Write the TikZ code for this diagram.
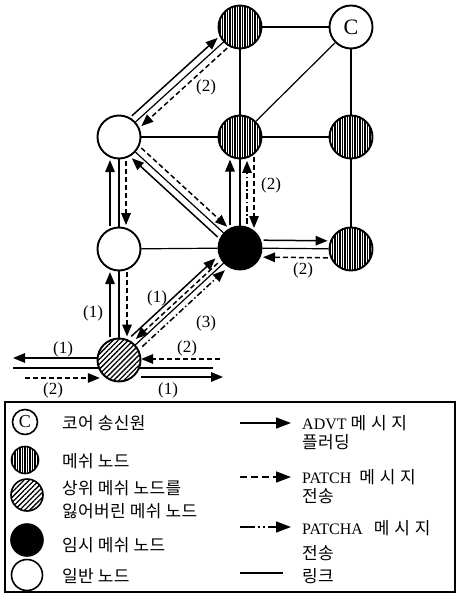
\documentclass[tikz,border=0pt]{standalone}
\usepackage{fontspec}
\setmainfont{Liberation Serif}
\newfontfamily\kr{Noto Sans CJK KR}[LetterSpace=2]
\newfontfamily\krw{Noto Sans CJK KR}[LetterSpace=28]
\usetikzlibrary{arrows.meta,calc,patterns.meta,backgrounds}
\newcommand\K[1]{{\kr\fontsize{17}{19}\selectfont #1}}
\newcommand\KW[1]{{\krw\fontsize{17}{19}\selectfont #1}}
\newcommand\msgline[5]{%
  \pgfmathsetmacro\msgsh{sqrt(484-(#4)*(#4))+#5}%
  \draw[#1, shorten <=\msgsh pt, shorten >=\msgsh pt] ($(#2)!#4pt!90:(#3)$) -- ($(#3)!#4pt!-90:(#2)$);%
}
\tikzset{
  nd/.style={circle, draw, line width=1.9pt, minimum size=43pt, inner sep=0pt},
  meshnd/.style={nd, preaction={fill=white}, pattern={Lines[angle=90,distance=2.5pt,line width=1.1pt]}},
  lostnd/.style={nd, preaction={fill=white}, pattern={Lines[angle=45,distance=3.6pt,line width=1.3pt]}},
  tempnd/.style={nd, fill=black},
  plainnd/.style={nd, fill=white},
  link/.style={line width=1.2pt},
  advt/.style={line width=1.5pt, -{Triangle[length=12pt,width=9.5pt]}},
  patch/.style={advt, dash pattern=on 5pt off 3pt},
  patcha/.style={advt, dash pattern=on 6pt off 2.5pt on 1.5pt off 2.5pt},
  lbl/.style={font=\fontsize{17}{19}\selectfont, anchor=center, inner sep=0pt},
  ktxt/.style={font=\fontsize{16}{18}\selectfont, anchor=base west, inner sep=0pt},
}
\begin{document}
\begin{tikzpicture}[x=1pt,y=-1pt]
\useasboundingbox (0,0) rectangle (458,601);
% nodes
\node[meshnd] (T) at (240,27) {};
\node[plainnd, font=\fontsize{22}{22}\selectfont] (C) at (351,27) {C};
\node[meshnd] (M) at (240,137) {};
\node[meshnd] (R) at (351,137) {};
\node[plainnd] (W1) at (119,137) {};
\node[plainnd] (W2) at (119,249) {};
\node[tempnd] (B) at (240,248) {};
\node[meshnd] (R2) at (351,249) {};
\node[lostnd] (H) at (119,360) {};
% free ends
\coordinate (lL) at (13,368);
\coordinate (lR) at (213,368);
\coordinate (a1) at (13,358);
\coordinate (d1) at (25,378);
\coordinate (d2) at (220,359);
\coordinate (a2) at (223,377);
% links
\begin{scope}[on background layer]
\draw[link] (lL) -- (lR);
\end{scope}
\draw[link] (T) -- (C);
\draw[link] (T) -- (M);
\draw[link] (C) -- (M);
\draw[link] (C) -- (R);
\draw[link] (M) -- (R);
\draw[link] (W1) -- (M);
\draw[link] (W1) -- (T);
\draw[link] (W1) -- (B);
\draw[link] (W1) -- (W2);
\draw[link] (W2) -- (B);
\draw[link] (M) -- (B);
\draw[link] (B) -- (R2);
\draw[link] (R) -- (R2);
\draw[link] (W2) -- (H);
\draw[link] (B) -- (H);
% messages
\msgline{advt}{W1}{T}{7}{3}
\msgline{patch}{T}{W1}{7}{3}
\msgline{patch}{W1}{B}{7}{3}
\msgline{advt}{B}{W1}{7}{3}
\msgline{advt}{W2}{W1}{9}{3}
\msgline{patch}{W1}{W2}{7}{3}
\msgline{advt}{H}{W2}{9}{3}
\msgline{patch}{W2}{H}{8}{3}
\msgline{advt}{B}{M}{10}{3}
\msgline{patcha}{B}{M}{-7}{3}
\msgline{patch}{M}{B}{14}{3}
\msgline{advt}{B}{R2}{8}{3}
\msgline{patch}{R2}{B}{9}{3}
\msgline{advt}{H}{B}{9}{5}
\msgline{patch}{B}{H}{-4}{5}
\msgline{patcha}{H}{B}{-6}{5}
\draw[advt] (H.west |- a1) -- (a1);
\draw[patch, shorten >=-3pt] (d1) -- (d1 -| H.west);
\draw[patch] (d2) -- (d2 -| H.east);
\draw[advt] (H.east |- a2) -- (a2);
% labels
\node[lbl] (n1) at (206,87) {(2)};
\node[lbl] (n2) at (271,185) {(2)};
\node[lbl] (n3) at (303,270) {(2)};
\node[lbl] (n4) at (93,313) {(1)};
\node[lbl] (n5) at (157,298) {(1)};
\node[lbl] (n6) at (206,323) {(3)};
\node[lbl] (n7) at (63,349) {(1)};
\node[lbl] (n8) at (187,348) {(2)};
\node[lbl] (n9) at (53,390) {(2)};
\node[lbl] (n10) at (168,390) {(1)};
% legend
\draw[line width=1.4pt] (5,402) rectangle (455,592);
\node[plainnd, minimum size=25pt, line width=1.6pt, font=\fontsize{18}{18}\selectfont] (kC) at (25,422) {C};
\node[meshnd, minimum size=27pt, line width=1.6pt] (kM) at (25,460) {};
\node[lostnd, minimum size=32pt, line width=1.6pt] (kH) at (27,495) {};
\node[tempnd, minimum size=32pt, line width=1.6pt] (kB) at (27,540) {};
\node[plainnd, minimum size=31pt, line width=1.6pt] (kW) at (27,575) {};
\node[ktxt] (t1) at (62,429) {\K{코어 송신원}};
\node[ktxt] (t2) at (62,467) {\K{메쉬 노드}};
\node[ktxt] (t3) at (62,494) {\K{상위 메쉬 노드를}};
\node[ktxt] (t4) at (62,517) {\K{잃어버린 메쉬 노드}};
\node[ktxt] (t5) at (62,551) {\K{임시 메쉬 노드}};
\node[ktxt] (t6) at (62,582) {\K{일반 노드}};
\coordinate (e1a) at (240,423); \coordinate (e1b) at (291,423);
\coordinate (e2a) at (240,477); \coordinate (e2b) at (291,477);
\coordinate (e3a) at (240,527); \coordinate (e3b) at (291,527);
\coordinate (e4a) at (240,573); \coordinate (e4b) at (283,573);
\draw[line width=1.5pt, -{Triangle[length=15pt,width=11pt]}] (e1a) -- (e1b);
\draw[line width=1.5pt, dash pattern=on 7pt off 4pt, -{Triangle[length=15pt,width=11pt]}] (e2a) -- (e2b);
\draw[line width=1.5pt, dash pattern=on 15pt off 3pt on 2pt off 3pt on 2pt off 3pt, -{Triangle[length=15pt,width=11pt]}] (e3a) -- (e3b);
\draw[link] (e4a) -- (e4b);
\node[ktxt] (r1) at (302,429) {ADVT \KW{메시지}};
\node[ktxt] (r2) at (302,448) {\K{플러딩}};
\node[ktxt] (r3) at (302,483) {PATCH\hspace{8pt}\KW{메시지}};
\node[ktxt] (r4) at (302,502) {\K{전송}};
\node[ktxt] (r5) at (302,534) {PATCHA\hspace{11pt}\KW{메시지}};
\node[ktxt] (r6) at (302,559) {\K{전송}};
\node[ktxt] (r7) at (302,582) {\K{링크}};
\end{tikzpicture}
\end{document}
